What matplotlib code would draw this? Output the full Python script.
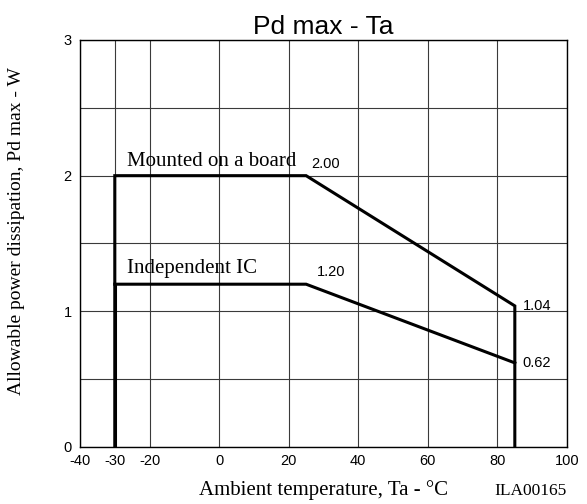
import matplotlib
matplotlib.use("Agg")
import matplotlib.pyplot as plt

plt.rcParams["axes.unicode_minus"] = False

# Data
board_x = [-30, -30, 25, 85, 85]
board_y = [0, 2.00, 2.00, 1.04, 0]
ic_x = [-30, 25, 85]
ic_y = [1.20, 1.20, 0.62]
x_ticks = [-40, -30, -20, 0, 20, 40, 60, 80, 100]
y_ticks = [0, 1, 2, 3]
y_minor = [0.5, 1.5, 2.5]
value_labels = [(26.5, 2.00, "2.00"), (28.0, 1.20, "1.20"), (87.3, 1.04, "1.04"), (87.3, 0.62, "0.62")]

sans = "Liberation Sans"
serif = "Liberation Serif"
W, H = 587, 504

fig = plt.figure(figsize=(5.87, 5.04), dpi=100)
ax = fig.add_axes([80 / W, 1 - 447 / H, (567 - 80) / W, (447 - 40) / H])
ax.set_xlim(-40, 100)
ax.set_ylim(0, 3)

ax.set_xticks(x_ticks)
ax.set_yticks(y_ticks)
ax.set_yticks(y_minor, minor=True)
ax.tick_params(which="both", length=0)
ax.tick_params(axis="x", pad=5)
ax.tick_params(axis="y", pad=6)
for lab in ax.get_xticklabels() + ax.get_yticklabels():
    lab.set_fontfamily(sans)
    lab.set_fontsize(10.5)

ax.grid(True, which="both", color="#3a3a3a", linewidth=0.8)
ax.set_axisbelow(True)
for s in ax.spines.values():
    s.set_color("black")
    s.set_linewidth(1.0)

ax.plot(board_x, board_y, color="black", linewidth=2.2, solid_joinstyle="miter")
ax.plot(ic_x, ic_y, color="black", linewidth=2.2, solid_joinstyle="miter")
ax.plot([ic_x[0], ic_x[0]], [0, ic_y[0]], color="black", linewidth=2.2)

ax.text(-26.5, 2.07, "Mounted on a board", family=serif, fontsize=15, ha="left", va="baseline")
ax.text(-26.5, 1.28, "Independent IC", family=serif, fontsize=15, ha="left", va="baseline")
for x, y, t in value_labels:
    if x < 80:
        ax.text(x, y + 0.06, t, family=sans, fontsize=10.5, ha="left", va="baseline")
    else:
        ax.text(x, y, t, family=sans, fontsize=10.5, ha="left", va="center")

ax.set_title("Pd max - Ta", family=sans, fontsize=19, pad=4)
fig.text(323.5 / W, 1 - 495 / H, "Ambient temperature, Ta - °C", family=serif, fontsize=15,
         ha="center", va="baseline")
fig.text(16.5 / W, 1 - 231.5 / H, "Allowable power dissipation, Pd max - W", family=serif,
         fontsize=14, rotation=90, ha="center", va="center")
fig.text(567 / W, 1 - 495 / H, "ILA00165", family=serif, fontsize=12.5, ha="right", va="baseline")

fig.savefig("out.png", dpi=100)
